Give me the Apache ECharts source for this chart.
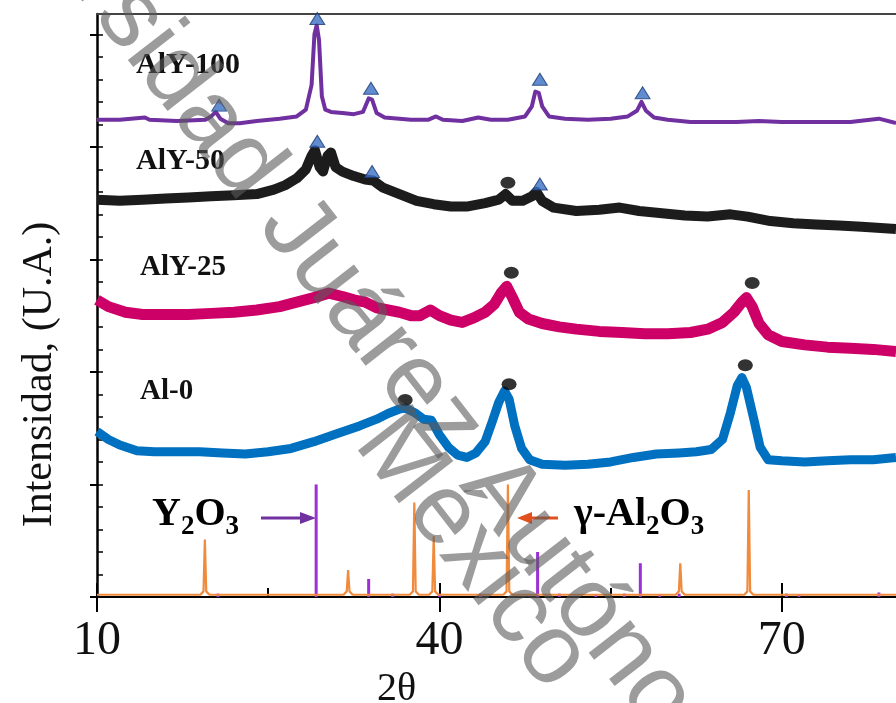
<!DOCTYPE html>
<html><head><meta charset="utf-8">
<script src="https://cdn.jsdelivr.net/npm/echarts@6/dist/echarts.min.js"></script>
<style>html,body{margin:0;padding:0;background:#fff}#c{width:896px;height:703px}</style>
</head><body><div id="c"></div>
<script>
// ---- tick values ----
const xTickLabels = [10, 40, 70];
const xMinorTicks = [25, 55];
const yMajorTicks = [0, 1, 2, 3, 4, 5];
const yMinorTicks = [0.2, 0.4, 0.6, 0.8, 1, 1.2, 1.4, 1.6, 1.8, 2, 2.2, 2.4, 2.6, 2.8, 3, 3.2, 3.4, 3.6, 3.8, 4, 4.2, 4.4, 4.6, 4.8, 5];

// ---- series labels ----
const sampleNames = ['AlY-100', 'AlY-50', 'AlY-25', 'Al-0'];

// ---- XRD traces [2θ, intensity (offset, a.u.)] ----
const aly100 = [[10,4.24],[12,4.24],[14.2,4.26],[14.6,4.24],[17,4.23],[19.5,4.24],[20.0,4.27],[20.4,4.31],[20.8,4.25],[21.5,4.21],[22.5,4.21],[24,4.23],[26,4.25],[27.5,4.27],[28.3,4.33],[28.8,4.55],[29.05,5.0],[29.25,5.08],[29.45,4.95],[29.7,4.45],[30.0,4.33],[30.5,4.31],[31.5,4.30],[32.5,4.29],[33.3,4.31],[33.8,4.43],[34.1,4.42],[34.5,4.30],[35.2,4.26],[36.5,4.25],[37.5,4.24],[39.0,4.24],[39.7,4.27],[40.3,4.24],[42,4.23],[43.4,4.26],[44.5,4.24],[46,4.24],[47.5,4.27],[48.1,4.36],[48.4,4.49],[48.7,4.48],[49.0,4.36],[49.6,4.27],[51,4.25],[53,4.24],[55,4.25],[56.5,4.27],[57.3,4.32],[57.7,4.40],[58.1,4.32],[58.8,4.26],[60,4.24],[62,4.22],[64,4.22],[66,4.22],[68,4.23],[70,4.22],[72,4.22],[74,4.22],[76,4.22],[78.5,4.25],[80,4.21]];
const aly50 = [[10,3.53],[12,3.52],[14,3.53],[16,3.54],[18,3.55],[20,3.56],[22,3.57],[24,3.58],[25.5,3.62],[26.5,3.66],[27.5,3.72],[28.3,3.80],[28.8,3.92],[29.1,3.97],[29.5,3.82],[29.8,3.78],[30.2,3.92],[30.5,3.95],[30.9,3.82],[31.5,3.78],[32.5,3.74],[33.5,3.71],[34.2,3.70],[35,3.64],[36.5,3.58],[38,3.52],[39.5,3.49],[41,3.47],[42.5,3.47],[44,3.50],[45.2,3.53],[45.8,3.58],[46.4,3.52],[47.3,3.52],[48.1,3.56],[48.5,3.60],[49.0,3.52],[50,3.46],[52,3.43],[54,3.44],[55.8,3.46],[57.5,3.43],[59.5,3.41],[61.5,3.39],[63.5,3.38],[65.5,3.40],[67,3.38],[69,3.34],[71,3.32],[73,3.31],[75,3.30],[77,3.29],[80,3.27]];
const aly25 = [[10,2.64],[11,2.58],[12.5,2.53],[14,2.51],[16,2.51],[18,2.51],[20,2.52],[22,2.53],[24,2.55],[26,2.58],[27.5,2.62],[29,2.66],[30.3,2.70],[31.5,2.67],[32.5,2.64],[33.5,2.62],[34.5,2.57],[35.5,2.55],[36.5,2.53],[37.5,2.50],[38.3,2.50],[39.2,2.55],[40,2.50],[41,2.46],[42,2.44],[43,2.48],[44,2.53],[44.8,2.60],[45.4,2.70],[45.9,2.76],[46.4,2.66],[47,2.53],[47.8,2.47],[49,2.43],[50.5,2.40],[52,2.38],[54,2.36],[56,2.35],[58,2.34],[60,2.34],[62,2.35],[63.5,2.38],[64.8,2.44],[65.8,2.53],[66.5,2.62],[66.9,2.66],[67.4,2.58],[68,2.43],[68.8,2.33],[70,2.27],[72,2.24],[74,2.22],[76,2.21],[78,2.20],[80,2.18]];
const al0 = [[10,1.47],[11,1.40],[12,1.35],[13.5,1.30],[15,1.29],[17,1.29],[19,1.29],[21,1.28],[23,1.27],[25,1.29],[27,1.32],[29,1.38],[31,1.45],[33,1.52],[34.5,1.58],[35.5,1.63],[36.5,1.67],[37.0,1.68],[37.8,1.64],[38.6,1.58],[39.3,1.57],[40.0,1.44],[40.8,1.33],[41.6,1.26],[42.4,1.24],[43.2,1.28],[44.0,1.38],[44.6,1.55],[45.2,1.73],[45.7,1.83],[46.1,1.76],[46.6,1.52],[47.2,1.32],[47.9,1.22],[49,1.18],[51,1.17],[53,1.18],[55,1.20],[57,1.24],[59,1.27],[61,1.28],[62.5,1.29],[63.8,1.31],[64.8,1.40],[65.5,1.64],[66.1,1.88],[66.5,1.95],[66.9,1.86],[67.5,1.60],[68.1,1.33],[68.8,1.22],[70,1.21],[72,1.20],[74,1.21],[76,1.22],[78,1.22],[80,1.24]];

// ---- reference patterns [2θ, relative intensity] ----
const gammaAl2O3Ref = [[19.45,0.51],[32.0,0.24],[37.8,0.84],[39.5,0.54],[46.0,1.0],[61.1,0.30],[67.1,0.95]];
const y2o3Ref = [[20.6,0.03],[29.2,1.0],[33.8,0.16],[35.9,0.03],[40.0,0.03],[43.6,0.03],[48.6,0.40],[50.5,0.03],[53.7,0.02],[56.2,0.03],[57.6,0.30],[59.3,0.02],[61.0,0.03],[70.4,0.03],[71.5,0.02],[78.5,0.04]];

// ---- phase markers ----
const triangleMarks = [[20.7,4.37],[29.3,5.14],[34.0,4.52],[48.8,4.60],[57.8,4.48],[29.3,4.05],[34.1,3.78],[48.8,3.67]];
const dotMarks = [[46.0,3.68],[46.3,2.88],[67.4,2.79],[37.0,1.75],[46.1,1.89],[66.8,2.06]];

const SERIF = '"Liberation Serif", "DejaVu Serif", serif';

function stickProfile(peaks) {
  const pts = [[10, 0.02]];
  peaks.forEach(([p, h]) => {
    pts.push([p - 0.4, 0.02], [p - 0.12, 0.05], [p, h], [p + 0.12, 0.05], [p + 0.4, 0.02]);
  });
  pts.push([80, 0.02]);
  return pts;
}

const chart = echarts.init(document.getElementById('c'), null, {renderer: 'canvas'});
const blackTick = {color: '#000', width: 2};
const hiddenX = {type: 'value', min: 10, max: 80, position: 'bottom', axisLine: {show: false}, axisLabel: {show: false}, splitLine: {show: false}};
const hiddenY = {type: 'value', min: 0, max: 5.18, position: 'left', axisLine: {show: false}, axisLabel: {show: false}, splitLine: {show: false}};
const WM_FONT = '100px "Liberation Sans", Arial, sans-serif';
const WM_FILL = 'rgba(90,90,90,0.6)';
const richFormula = {
  b: {fontSize: 40, fontWeight: 'bold', fontFamily: SERIF, color: '#111', lineHeight: 42, verticalAlign: 'bottom'},
  s: {fontSize: 27, fontWeight: 'bold', fontFamily: SERIF, color: '#111', lineHeight: 27, verticalAlign: 'bottom', padding: [0, 0, -6, 0]}
};

const option = {
  backgroundColor: '#fff',
  animation: false,
  grid: {left: 97, right: 0, top: 14, bottom: 106, containLabel: false, outerBoundsMode: 'none'},
  xAxis: [
    {type: 'value', min: 10, max: 80, position: 'bottom',
     axisLine: {show: true, lineStyle: {color: '#000', width: 2}},
     axisTick: {show: true, inside: false, length: 15, customValues: xTickLabels, lineStyle: blackTick},
     axisLabel: {customValues: xTickLabels, margin: 20, fontSize: 48, fontFamily: SERIF, color: '#111'},
     splitLine: {show: false},
     name: '2θ', nameLocation: 'middle', nameGap: 42,
     nameTextStyle: {fontSize: 40, fontFamily: SERIF, color: '#111', padding: [0, 200, 0, 0]}},
    Object.assign({}, hiddenX, {axisTick: {show: true, inside: true, length: 14, customValues: xTickLabels, lineStyle: blackTick}}),
    Object.assign({}, hiddenX, {axisTick: {show: true, inside: true, length: 9, customValues: xMinorTicks, lineStyle: blackTick}}),
    {type: 'value', min: 10, max: 80, position: 'top', axisLine: {show: true, lineStyle: {color: '#444', width: 2}},
     axisTick: {show: false}, axisLabel: {show: false}, splitLine: {show: false}}
  ],
  yAxis: [
    {type: 'value', min: 0, max: 5.18, position: 'left',
     axisLine: {show: true, lineStyle: {color: '#000', width: 2.5}},
     axisTick: {show: true, inside: false, length: 7, customValues: yMajorTicks, lineStyle: blackTick},
     axisLabel: {show: false}, splitLine: {show: false},
     name: 'Intensidad, (U.A.)', nameLocation: 'middle', nameGap: 36,
     nameTextStyle: {fontSize: 42, fontFamily: SERIF, color: '#111', padding: [0, 138, 0, 0]}},
    Object.assign({}, hiddenY, {axisTick: {show: true, inside: true, length: 6, customValues: yMinorTicks, lineStyle: {color: '#000', width: 1.5}}})
  ],
  series: [
    {name: 'γ-Al2O3 ref', type: 'line', data: stickProfile(gammaAl2O3Ref), showSymbol: false, symbol: 'none',
     lineStyle: {color: '#f08a3c', width: 2.2}, z: 2},
    {name: 'Y2O3 ref', type: 'bar', data: y2o3Ref, barWidth: 3, itemStyle: {color: '#9a30d6'}, z: 2},
    {name: sampleNames[0], type: 'line', data: aly100, symbol: 'none', lineStyle: {color: '#7030a0', width: 4, join: 'round'}, z: 3},
    {name: sampleNames[1], type: 'line', data: aly50, symbol: 'none', lineStyle: {color: '#1c1c1c', width: 10, join: 'round'}, z: 3},
    {name: sampleNames[2], type: 'line', data: aly25, symbol: 'none', lineStyle: {color: '#cc0066', width: 11, join: 'round'}, z: 3},
    {name: sampleNames[3], type: 'line', data: al0, symbol: 'none', lineStyle: {color: '#0070c0', width: 9, join: 'round'}, z: 3},
    {name: 'Y2O3', type: 'scatter', data: triangleMarks, symbol: 'triangle', symbolSize: [15, 12],
     itemStyle: {color: '#3a6fc4', borderColor: '#1b3a73', borderWidth: 1}, z: 5},
    {name: 'γ-Al2O3', type: 'scatter', data: dotMarks, symbol: 'circle', symbolSize: [15, 12],
     itemStyle: {color: '#000'}, z: 5}
  ],
  graphic: [
    {type: 'text', x: 136, y: 65, style: {text: sampleNames[0], font: 'bold 30px ' + SERIF, fill: '#111', verticalAlign: 'middle'}},
    {type: 'text', x: 136, y: 161, style: {text: sampleNames[1], font: 'bold 30px ' + SERIF, fill: '#111', verticalAlign: 'middle'}},
    {type: 'text', x: 140, y: 268, style: {text: sampleNames[2], font: 'bold 29px ' + SERIF, fill: '#111', verticalAlign: 'middle'}},
    {type: 'text', x: 140, y: 392, style: {text: sampleNames[3], font: 'bold 29px ' + SERIF, fill: '#111', verticalAlign: 'middle'}},
    {type: 'text', x: 152, y: 514, style: {text: '{b|Y}{s|2}{b|O}{s|3}', verticalAlign: 'middle', rich: richFormula}},
    {type: 'text', x: 574, y: 514, style: {text: '{b|γ-Al}{s|2}{b|O}{s|3}', verticalAlign: 'middle', rich: richFormula}},
    {type: 'line', shape: {x1: 261, y1: 518, x2: 304, y2: 518}, style: {stroke: '#7030a0', lineWidth: 3}},
    {type: 'polygon', shape: {points: [[316, 518], [300, 512], [300, 524]]}, style: {fill: '#7030a0'}},
    {type: 'line', shape: {x1: 558, y1: 518, x2: 528, y2: 518}, style: {stroke: '#e2501e', lineWidth: 3}},
    {type: 'polygon', shape: {points: [[517, 518], [532, 512], [532, 524]]}, style: {fill: '#e2501e'}},
    {type: 'text', x: 480, y: 468, rotation: -0.91, z: 100,
     style: {text: 'Autónoma de Tabasco', font: WM_FONT, fill: WM_FILL, align: 'left', verticalAlign: 'middle'}},
    {type: 'text', x: 480, y: 468, rotation: -0.91, z: 100,
     style: {text: 'Universidad Juárez ', font: WM_FONT, fill: WM_FILL, align: 'right', verticalAlign: 'middle'}},
    {type: 'text', x: 472, y: 552, rotation: -0.91, z: 100,
     style: {text: 'México', font: WM_FONT, fill: WM_FILL, align: 'center', verticalAlign: 'middle'}}
  ]
};
chart.setOption(option);
</script></body></html>
